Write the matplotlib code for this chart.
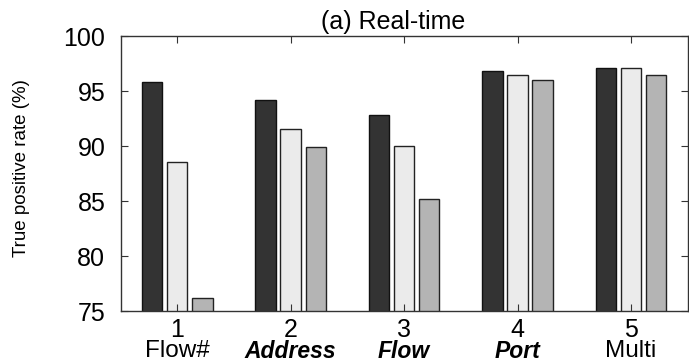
import numpy as np
import matplotlib
matplotlib.use("Agg")
import matplotlib.pyplot as plt
import matplotlib.transforms as mtransforms

# values
groups = [1, 2, 3, 4, 5]
names = ["Flow#", "Address", "Flow", "Port", "Multi"]
name_bold = [False, True, True, True, False]
series_a = [95.8, 94.2, 92.8, 96.8, 97.1]
series_b = [88.6, 91.6, 90.0, 96.5, 97.1]
series_c = [76.2, 89.9, 85.2, 96.0, 96.5]

plt.rcParams['font.family'] = ['Liberation Sans', 'DejaVu Sans']

fig = plt.figure(figsize=(6.89, 3.64), dpi=100)
ax = fig.add_axes([0.175, 0.1456, 0.823, 0.7547])

x = np.array(groups)
off = 0.222
w = 0.18
ax.bar(x - off, series_a, w, color='#333333', edgecolor='#111111', linewidth=1.0)
ax.bar(x, series_b, w, color='#ebebeb', edgecolor='#222222', linewidth=1.0)
ax.bar(x + off, series_c, w, color='#b4b4b4', edgecolor='#222222', linewidth=1.0)

ax.set_xlim(0.5, 5.5)
ax.set_ylim(75, 100)
ax.set_yticks([75, 80, 85, 90, 95, 100])
ax.set_xticks(groups)
ax.tick_params(direction='in', length=5, width=0.8, top=True, right=True,
               labelsize=18, color='#333333')
ax.tick_params(axis='x', pad=5)
ax.tick_params(axis='y', pad=11)
for s in ax.spines.values():
    s.set_color('#333333')
    s.set_linewidth(1.0)

trans = mtransforms.blended_transform_factory(ax.transData, ax.transAxes)
for xi, nm, b in zip(groups, names, name_bold):
    if b:
        ax.text(xi, -0.105, nm, transform=trans, ha='center', va='top',
                fontsize=16.5, fontweight='bold', fontstyle='italic')
    else:
        ax.text(xi, -0.105, nm, transform=trans, ha='center', va='top', fontsize=17.5)

ax.set_ylabel("True positive rate (%)", fontsize=13.5)
ax.yaxis.set_label_coords(-0.16, 0.52)
ax.set_title("(a) Real-time", fontsize=18, pad=5, x=0.48)

fig.savefig("out.png", dpi=100)
